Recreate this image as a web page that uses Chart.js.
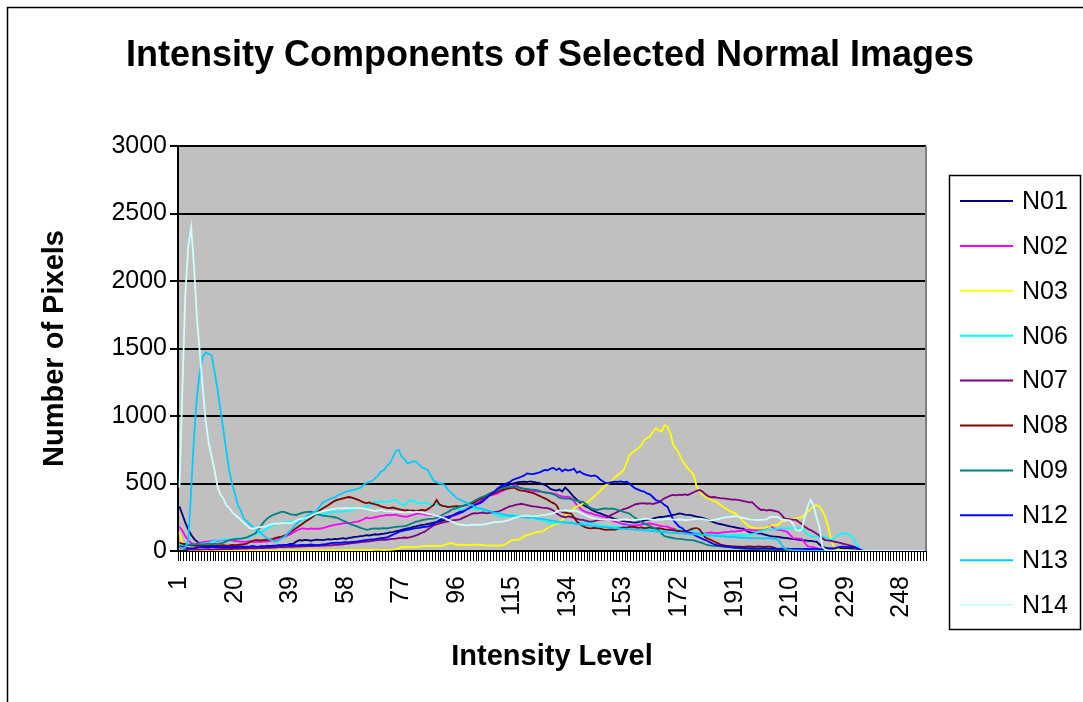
<!DOCTYPE html>
<html>
<head>
<meta charset="utf-8">
<script src="https://cdn.jsdelivr.net/npm/chart.js@4.4.1/dist/chart.umd.min.js"></script>
<style>
  html, body { margin: 0; padding: 0; background: #fff; }
  #wrap { width: 1083px; height: 702px; }
</style>
</head>
<body>
<div id="wrap"><canvas id="chart" width="1083" height="702"></canvas></div>
<script>
// categories: intensity levels 1..256
const levels = Array.from({ length: 256 }, (_, i) => String(i + 1));
const shownTicks = ["1", "20", "39", "58", "77", "96", "115", "134", "153", "172", "191", "210", "229", "248"];
const yTicks = [0, 500, 1000, 1500, 2000, 2500, 3000];

const seriesNames = ["N01", "N02", "N03", "N06", "N07", "N08", "N09", "N12", "N13", "N14"];
const seriesColors = ["#000080", "#FF00FF", "#FFFF00", "#00FFFF", "#800080", "#800000", "#008080", "#0000FF", "#00CCFF", "#CCFFFF"];

const N01 = [
  330, 270, 210, 160, 120, 90, 70, 55, 45, 40, 35, 30, 28, 30, 26, 25,
  28, 25, 30, 27, 32, 30, 28, 33, 30, 35, 32, 30, 35, 33, 38, 35,
  40, 38, 42, 40, 45, 48, 52, 55, 70, 80, 78, 82, 80, 76, 80, 84,
  82, 80, 85, 88, 84, 90, 88, 92, 95, 90, 98, 100, 104, 106, 110, 112,
  118, 115, 120, 124, 122, 126, 128, 132, 138, 140, 145, 150, 156, 162, 168, 172,
  178, 182, 188, 193, 196, 200, 205, 210, 214, 218, 225, 232, 240, 255, 268, 281,
  290, 300, 310, 318, 328, 340, 352, 365, 378, 392, 410, 425, 440, 455, 468, 476,
  485, 492, 500, 505, 510, 512, 514, 510, 515, 512, 508, 505, 498, 489, 478, 460,
  452, 448, 455, 440, 470, 450, 425, 400, 380, 360, 345, 330, 320, 305, 295, 285,
  279, 270, 262, 255, 245, 238, 230, 225, 222, 218, 215, 212, 210, 214, 220, 225,
  230, 235, 240, 245, 250, 252, 254, 258, 262, 268, 272, 279, 275, 270, 268, 265,
  260, 255, 250, 245, 238, 230, 220, 212, 205, 200, 195, 190, 185, 180, 176, 172,
  168, 165, 150, 140, 135, 133, 130, 128, 124, 118, 112, 108, 106, 104, 100, 98,
  95, 92, 90, 86, 82, 80, 78, 76, 75, 72, 70, 50, 30, 25, 22, 20,
  20, 22, 20, 18, 20, 18, 16, 14, 8, 0, 0, 0, 0, 0, 0, 0,
  0, 0, 0, 0, 0, 0, 0, 0, 0, 0, 0, 0, 0, 0, 0, 0
];
const N02 = [
  180, 150, 110, 80, 60, 50, 55, 60, 65, 70, 72, 75, 78, 74, 80, 78,
  76, 80, 78, 74, 72, 70, 68, 70, 72, 68, 66, 70, 68, 72, 70, 75,
  80, 88, 95, 100, 106, 115, 125, 138, 150, 160, 168, 165, 162, 168, 164, 166,
  165, 170, 175, 182, 188, 193, 198, 200, 205, 208, 206, 210, 215, 218, 225, 235,
  248, 242, 245, 250, 255, 260, 262, 267, 265, 268, 270, 262, 258, 255, 254, 262,
  268, 275, 279, 275, 270, 268, 265, 267, 262, 258, 255, 250, 254, 256, 262, 270,
  280, 292, 305, 318, 328, 345, 360, 378, 392, 400, 408, 415, 420, 427, 440, 450,
  462, 470, 480, 490, 476, 465, 458, 452, 448, 445, 442, 440, 438, 435, 432, 430,
  425, 420, 410, 405, 400, 403, 395, 370, 340, 320, 300, 290, 282, 279, 270, 265,
  258, 254, 250, 240, 225, 217, 212, 205, 200, 195, 192, 190, 188, 192, 196, 200,
  202, 205, 200, 196, 190, 185, 182, 180, 172, 165, 158, 150, 145, 143, 140, 136,
  132, 130, 128, 130, 132, 135, 138, 135, 132, 135, 138, 140, 142, 145, 143, 148,
  150, 155, 156, 158, 155, 152, 156, 160, 156, 170, 190, 175, 160, 156, 155, 150,
  140, 120, 96, 94, 92, 90, 60, 35, 30, 28, 22, 15, 8, 5, 3, 2,
  0, 0, 0, 0, 0, 0, 0, 0, 0, 0, 0, 0, 0, 0, 0, 0,
  0, 0, 0, 0, 0, 0, 0, 0, 0, 0, 0, 0, 0, 0, 0, 0
];
const N03 = [
  140, 60, 20, 10, 6, 5, 4, 5, 3, 4, 3, 2, 3, 4, 3, 2,
  3, 2, 4, 3, 2, 3, 2, 3, 4, 3, 2, 3, 2, 3, 2, 3,
  3, 4, 3, 2, 3, 4, 3, 4, 5, 4, 5, 4, 5, 6, 5, 4,
  5, 6, 5, 6, 7, 6, 5, 6, 7, 6, 7, 8, 7, 6, 7, 8,
  7, 8, 7, 8, 9, 8, 7, 8, 9, 10, 12, 20, 30, 28, 32, 30,
  28, 30, 32, 35, 38, 36, 37, 40, 38, 36, 40, 45, 52, 59, 50, 46,
  48, 45, 47, 44, 46, 48, 45, 47, 44, 42, 40, 42, 40, 41, 40, 45,
  55, 70, 80, 82, 85, 95, 110, 118, 125, 130, 138, 142, 143, 155, 170, 180,
  193, 200, 207, 230, 255, 275, 295, 315, 328, 340, 350, 358, 365, 385, 405, 427,
  445, 470, 490, 501, 520, 545, 563, 580, 600, 650, 711, 730, 745, 760, 780, 822,
  835, 847, 880, 909, 895, 884, 933, 920, 870, 785, 760, 720, 674, 640, 612, 590,
  563, 476, 450, 415, 400, 390, 378, 370, 360, 345, 328, 315, 300, 290, 281, 265,
  245, 217, 200, 180, 175, 170, 168, 170, 168, 175, 185, 193, 190, 195, 217, 222,
  230, 235, 240, 242, 245, 250, 270, 291, 310, 330, 341, 330, 300, 254, 180, 81,
  32, 15, 10, 8, 7, 6, 5, 4, 3, 2, 1, 0, 0, 0, 0, 0,
  0, 0, 0, 0, 0, 0, 0, 0, 0, 0, 0, 0, 0, 0, 0, 0
];
const N06 = [
  50, 45, 40, 42, 45, 48, 50, 52, 55, 56, 60, 70, 75, 80, 82, 85,
  88, 85, 90, 92, 95, 96, 94, 98, 105, 115, 125, 131, 140, 150, 168, 180,
  192, 200, 205, 210, 212, 215, 217, 220, 222, 226, 230, 235, 240, 248, 255, 267,
  270, 275, 280, 285, 291, 288, 290, 292, 291, 295, 300, 305, 310, 316, 320, 325,
  328, 340, 355, 365, 360, 368, 362, 365, 370, 375, 378, 360, 345, 341, 360, 378,
  370, 362, 353, 355, 360, 350, 345, 341, 345, 340, 335, 332, 330, 325, 318, 310,
  304, 308, 312, 316, 318, 314, 310, 306, 304, 304, 296, 285, 270, 260, 254, 258,
  262, 265, 265, 262, 260, 258, 255, 254, 250, 245, 238, 232, 230, 225, 215, 210,
  205, 210, 212, 208, 210, 214, 210, 206, 210, 212, 208, 205, 210, 206, 200, 195,
  190, 186, 182, 180, 178, 182, 180, 176, 180, 182, 178, 180, 176, 174, 170, 166,
  162, 160, 158, 156, 154, 156, 158, 155, 156, 152, 154, 156, 155, 152, 150, 148,
  145, 140, 136, 130, 125, 120, 118, 120, 116, 118, 120, 117, 118, 116, 118, 120,
  118, 116, 118, 120, 125, 130, 140, 148, 152, 156, 160, 156, 162, 166, 170, 168,
  170, 168, 172, 170, 168, 170, 150, 118, 110, 106, 108, 104, 106, 104, 95, 81,
  90, 110, 125, 133, 130, 125, 110, 80, 40, 10, 5, 2, 0, 0, 0, 0,
  0, 0, 0, 0, 0, 0, 0, 0, 0, 0, 0, 0, 0, 0, 0, 0
];
const N07 = [
  30, 20, 15, 12, 10, 10, 12, 10, 12, 14, 12, 10, 12, 14, 12, 15,
  14, 16, 15, 18, 16, 18, 20, 18, 20, 22, 20, 22, 24, 22, 25, 24,
  26, 25, 28, 30, 28, 30, 32, 30, 34, 32, 35, 34, 36, 38, 36, 40,
  38, 42, 40, 44, 42, 46, 45, 48, 50, 52, 55, 58, 60, 62, 65, 68,
  70, 72, 75, 78, 80, 82, 85, 82, 88, 90, 92, 95, 98, 100, 98, 102,
  108, 115, 125, 135, 143, 160, 175, 190, 198, 205, 210, 215, 220, 225, 228, 230,
  235, 245, 255, 265, 275, 280, 279, 282, 285, 279, 282, 286, 290, 291, 300, 310,
  320, 330, 335, 341, 345, 350, 345, 340, 335, 330, 328, 325, 322, 320, 318, 310,
  300, 280, 265, 254, 250, 256, 252, 245, 238, 232, 230, 225, 220, 217, 222, 228,
  232, 230, 240, 255, 270, 280, 291, 300, 310, 316, 325, 335, 345, 350, 353, 355,
  350, 353, 348, 355, 360, 375, 390, 400, 410, 415, 412, 418, 415, 420, 415, 425,
  435, 445, 452, 440, 420, 405, 398, 400, 395, 392, 390, 388, 385, 380, 382, 378,
  375, 370, 365, 360, 362, 340, 320, 304, 306, 300, 304, 300, 295, 290, 270, 242,
  238, 235, 232, 230, 215, 200, 180, 165, 155, 143, 130, 115, 95, 81, 78, 75,
  70, 65, 60, 55, 50, 44, 38, 30, 20, 10, 0, 0, 0, 0, 0, 0,
  0, 0, 0, 0, 0, 0, 0, 0, 0, 0, 0, 0, 0, 0, 0, 0
];
const N08 = [
  60, 55, 50, 45, 42, 40, 38, 40, 42, 38, 40, 42, 40, 38, 42, 44,
  40, 42, 45, 44, 46, 48, 50, 55, 65, 75, 81, 80, 78, 82, 80, 84,
  90, 98, 102, 106, 115, 125, 140, 156, 170, 185, 200, 217, 230, 245, 260, 281,
  300, 315, 328, 340, 355, 370, 378, 385, 390, 395, 400, 395, 388, 380, 370, 360,
  355, 360, 350, 345, 340, 330, 325, 320, 318, 322, 316, 310, 305, 300, 302, 298,
  300, 296, 300, 305, 300, 310, 325, 341, 378, 345, 335, 330, 325, 328, 330, 332,
  330, 335, 340, 345, 350, 360, 378, 385, 395, 405, 412, 420, 430, 440, 450, 455,
  460, 464, 470, 465, 452, 448, 445, 440, 435, 430, 420, 410, 400, 390, 380, 365,
  355, 340, 300, 290, 285, 280, 279, 250, 220, 200, 185, 175, 170, 168, 172, 170,
  166, 160, 156, 158, 160, 156, 165, 170, 175, 172, 178, 180, 176, 172, 175, 170,
  172, 175, 170, 168, 170, 166, 160, 158, 156, 154, 150, 148, 146, 145, 150, 160,
  168, 170, 160, 130, 100, 90, 81, 70, 60, 50, 44, 40, 38, 35, 34, 32,
  32, 30, 32, 34, 32, 30, 34, 32, 30, 32, 32, 28, 20, 10, 5, 2,
  0, 0, 0, 0, 0, 0, 0, 0, 0, 0, 0, 0, 0, 0, 0, 0,
  0, 0, 0, 0, 0, 0, 0, 0, 0, 0, 0, 0, 0, 0, 0, 0,
  0, 0, 0, 0, 0, 0, 0, 0, 0, 0, 0, 0, 0, 0, 0, 0
];
const N09 = [
  40, 35, 38, 45, 50, 48, 52, 50, 48, 52, 55, 50, 54, 52, 56, 60,
  70, 81, 85, 88, 90, 92, 96, 100, 110, 120, 131, 160, 190, 217, 240, 255,
  267, 275, 282, 291, 288, 280, 272, 270, 267, 275, 282, 288, 290, 291, 285, 275,
  267, 262, 260, 256, 254, 250, 245, 235, 225, 217, 205, 195, 188, 180, 172, 165,
  156, 160, 165, 168, 165, 168, 170, 168, 172, 175, 178, 180, 182, 185, 190, 200,
  208, 217, 222, 228, 232, 236, 238, 240, 245, 255, 268, 280, 290, 304, 312, 320,
  328, 335, 341, 350, 360, 372, 385, 395, 403, 412, 425, 435, 442, 452, 460, 468,
  472, 475, 476, 480, 470, 465, 462, 460, 456, 454, 452, 448, 440, 435, 430, 427,
  420, 410, 395, 390, 388, 390, 385, 378, 372, 368, 365, 350, 330, 315, 310, 304,
  310, 314, 316, 312, 316, 310, 304, 298, 290, 285, 278, 260, 245, 230, 217, 205,
  195, 185, 175, 165, 156, 130, 110, 105, 100, 96, 92, 90, 88, 85, 82, 81,
  78, 72, 65, 58, 50, 44, 40, 38, 36, 34, 32, 30, 28, 25, 24, 22,
  20, 18, 16, 15, 14, 12, 12, 10, 10, 12, 10, 8, 10, 12, 10, 8,
  10, 12, 10, 8, 10, 8, 6, 8, 6, 5, 4, 3, 2, 0, 0, 0,
  0, 0, 0, 0, 0, 0, 0, 0, 0, 0, 0, 0, 0, 0, 0, 0,
  0, 0, 0, 0, 0, 0, 0, 0, 0, 0, 0, 0, 0, 0, 0, 0
];
const N12 = [
  30, 28, 25, 22, 20, 22, 25, 28, 30, 28, 26, 30, 32, 30, 28, 30,
  32, 30, 28, 30, 32, 34, 32, 30, 32, 34, 32, 30, 34, 32, 35, 38,
  36, 40, 42, 44, 42, 44, 46, 44, 42, 44, 46, 44, 46, 48, 46, 44,
  46, 48, 50, 54, 58, 60, 62, 60, 64, 66, 64, 68, 70, 72, 75, 78,
  81, 84, 86, 88, 92, 95, 98, 100, 110, 120, 130, 140, 148, 152, 156, 160,
  165, 170, 172, 176, 178, 180, 190, 200, 215, 230, 240, 250, 255, 260, 267, 275,
  282, 290, 304, 315, 328, 340, 350, 355, 370, 390, 410, 427, 445, 465, 480, 490,
  501, 510, 526, 535, 542, 550, 560, 575, 572, 570, 575, 580, 590, 600, 598, 610,
  615, 600, 612, 590, 605, 595, 600, 610, 580, 590, 575, 565, 560, 555, 560, 550,
  530, 514, 501, 505, 510, 514, 512, 516, 510, 514, 500, 480, 464, 455, 445, 440,
  427, 420, 400, 378, 370, 360, 340, 328, 281, 230, 205, 180, 170, 150, 140, 133,
  120, 110, 100, 90, 81, 70, 60, 50, 44, 40, 36, 32, 30, 28, 26, 25,
  24, 22, 22, 20, 22, 20, 18, 20, 22, 20, 18, 20, 18, 16, 18, 16,
  18, 16, 15, 16, 15, 14, 16, 15, 14, 16, 15, 14, 12, 14, 15, 18,
  20, 25, 30, 32, 30, 28, 30, 28, 20, 5, 0, 0, 0, 0, 0, 0,
  0, 0, 0, 0, 0, 0, 0, 0, 0, 0, 0, 0, 0, 0, 0, 0
];
const N13 = [
  30, 20, 25, 80, 450, 850, 1150, 1330, 1440, 1470, 1460, 1450, 1330, 1200, 1050, 900,
  750, 600, 500, 420, 340, 300, 240, 220, 200, 180, 165, 150, 130, 110, 95, 85,
  75, 70, 80, 95, 105, 130, 150, 175, 200, 220, 240, 250, 265, 275, 285, 300,
  330, 360, 370, 380, 390, 395, 410, 420, 430, 440, 445, 450, 455, 460, 470, 490,
  505, 510, 520, 540, 560, 590, 600, 630, 650, 690, 740, 750, 700, 680, 650, 655,
  665, 660, 640, 620, 610, 600, 560, 520, 510, 500, 500, 480, 450, 430, 410, 390,
  380, 370, 360, 345, 340, 330, 320, 315, 310, 300, 295, 290, 285, 280, 275, 270,
  265, 258, 262, 255, 258, 250, 252, 246, 245, 250, 244, 240, 238, 234, 232, 226,
  225, 220, 216, 214, 212, 208, 210, 204, 200, 198, 196, 190, 192, 186, 185, 180,
  180, 176, 178, 172, 172, 168, 170, 164, 166, 162, 160, 162, 156, 158, 154, 152,
  152, 148, 150, 145, 144, 140, 142, 137, 136, 134, 135, 130, 130, 127, 128, 124,
  125, 122, 123, 118, 118, 114, 116, 112, 112, 108, 110, 105, 106, 102, 104, 100,
  100, 97, 98, 95, 97, 95, 96, 93, 96, 94, 95, 92, 90, 80, 50, 20,
  10, 8, 6, 5, 4, 3, 2, 1, 0, 0, 0, 0, 0, 0, 0, 0,
  0, 0, 0, 0, 0, 0, 0, 0, 0, 0, 0, 0, 0, 0, 0, 0,
  0, 0, 0, 0, 0, 0, 0, 0, 0, 0, 0, 0, 0, 0, 0, 0
];
const N14 = [
  470, 1200, 1900, 2250, 2400, 2100, 1720, 1460, 1200, 960, 800, 700, 600, 480, 420, 390,
  340, 320, 290, 270, 250, 230, 210, 190, 170, 165, 170, 175, 178, 180, 185, 195,
  200, 205, 202, 208, 205, 210, 205, 215, 225, 235, 240, 244, 250, 260, 270, 281,
  288, 295, 300, 304, 308, 312, 316, 318, 316, 320, 315, 318, 316, 320, 318, 316,
  310, 305, 300, 295, 300, 304, 298, 292, 295, 290, 292, 288, 290, 285, 288, 290,
  286, 290, 288, 285, 280, 276, 272, 268, 262, 255, 250, 240, 230, 220, 210, 200,
  195, 193, 190, 192, 195, 193, 196, 194, 198, 200, 205, 210, 215, 212, 218, 220,
  225, 230, 240, 248, 254, 258, 260, 262, 258, 256, 260, 262, 265, 268, 272, 275,
  280, 290, 300, 298, 302, 300, 296, 300, 295, 285, 275, 265, 255, 248, 242, 238,
  235, 232, 236, 234, 230, 232, 228, 230, 232, 234, 230, 228, 230, 232, 235, 238,
  240, 236, 232, 230, 234, 232, 236, 238, 235, 232, 230, 234, 232, 228, 230, 232,
  235, 238, 240, 236, 232, 228, 225, 230, 235, 240, 245, 250, 252, 255, 258, 255,
  250, 245, 240, 235, 232, 230, 228, 230, 232, 235, 250, 255, 252, 250, 232, 230,
  228, 225, 200, 155, 150, 160, 250, 330, 378, 341, 250, 180, 32, 10, 5, 2,
  0, 0, 0, 0, 0, 0, 0, 0, 0, 0, 0, 0, 0, 0, 0, 0,
  0, 0, 0, 0, 0, 0, 0, 0, 0, 0, 0, 0, 0, 0, 0, 0
];

const seriesValues = [N01, N02, N03, N06, N07, N08, N09, N12, N13, N14];
const FONT = '"Liberation Sans", Arial, sans-serif';

const datasets = seriesNames.map((name, i) => ({
  label: name,
  data: seriesValues[i],
  borderColor: seriesColors[i],
  backgroundColor: seriesColors[i],
  borderWidth: 1.8,
  pointRadius: 0,
  tension: 0,
  fill: false,
  order: seriesNames.length - i   // last series on top, like Excel
}));

// grey plot area, outer frame, title and legend box
const frame = {
  id: "frame",
  beforeDraw(chart) {
    const { ctx, chartArea: a } = chart;
    ctx.save();
    ctx.fillStyle = "#fff";
    ctx.fillRect(0, 0, chart.width, chart.height);
    ctx.fillStyle = "#C0C0C0";
    ctx.fillRect(a.left, a.top, a.right - a.left, a.bottom - a.top);
    ctx.strokeStyle = "#000";
    ctx.lineWidth = 1.5;
    ctx.strokeRect(7.5, 7.5, chart.width + 20, chart.height + 20);
    ctx.restore();
  },
  afterDraw(chart) {
    const { ctx, chartArea: a } = chart;
    ctx.save();
    ctx.strokeStyle = "#808080";
    ctx.lineWidth = 2;
    ctx.beginPath();
    ctx.moveTo(a.right, a.top);
    ctx.lineTo(a.right, a.bottom);
    ctx.stroke();

    // title
    ctx.fillStyle = "#000";
    ctx.font = "bold 36px " + FONT;
    ctx.textAlign = "center";
    ctx.textBaseline = "middle";
    ctx.fillText("Intensity Components of Selected Normal Images", 550, 56);

    // legend
    ctx.fillStyle = "#fff";
    ctx.fillRect(949, 175, 131, 454);
    ctx.strokeStyle = "#000";
    ctx.lineWidth = 1.5;
    ctx.strokeRect(949.5, 175.5, 131, 454);
    ctx.font = "25px " + FONT;
    ctx.textAlign = "left";
    chart.data.datasets.forEach((ds, k) => {
      const y = 201 + k * 44.9;
      ctx.strokeStyle = ds.borderColor;
      ctx.lineWidth = 2;
      ctx.beginPath();
      ctx.moveTo(960, y);
      ctx.lineTo(1013, y);
      ctx.stroke();
      ctx.fillStyle = "#000";
      ctx.fillText(ds.label, 1022, y + 1);
    });
    ctx.restore();
  }
};

new Chart(document.getElementById("chart"), {
  type: "line",
  data: { labels: levels, datasets },
  plugins: [frame],
  options: {
    responsive: false,
    animation: false,
    layout: { padding: { top: 146, right: 157, left: 0, bottom: 0 } },
    plugins: { legend: { display: false }, title: { display: false }, tooltip: { enabled: false } },
    scales: {
      x: {
        type: "category",
        offset: true,
        grid: { offset: true, drawOnChartArea: false, drawTicks: true, tickLength: 10, color: "#000", lineWidth: 1 },
        border: { color: "#000", width: 2 },
        ticks: {
          autoSkip: false,
          maxRotation: 90,
          minRotation: 90,
          padding: 15,
          color: "#000",
          font: { family: FONT, size: 25 },
          callback: (v, i) => shownTicks.includes(levels[i]) ? levels[i] : ""
        },
        title: {
          display: true,
          text: "Intensity Level",
          color: "#000",
          font: { family: FONT, size: 29, weight: "bold" },
          padding: { top: 0, bottom: 28 }
        },
        afterFit: s => { s.height = 151; }
      },
      y: {
        min: 0,
        max: 3000,
        afterBuildTicks: s => { s.ticks = yTicks.map(v => ({ value: v })); },
        grid: { color: "#000", lineWidth: 2, drawTicks: true, tickLength: 8 },
        border: { color: "#000", width: 2 },
        ticks: { color: "#000", padding: 3, font: { family: FONT, size: 25 }, callback: v => String(v) },
        title: {
          display: true,
          text: "Number of Pixels",
          color: "#000",
          font: { family: FONT, size: 29, weight: "bold" },
          padding: { top: 38, bottom: 0 }
        },
        afterFit: s => { s.width = 178; }
      }
    }
  }
});
</script>
</body>
</html>
